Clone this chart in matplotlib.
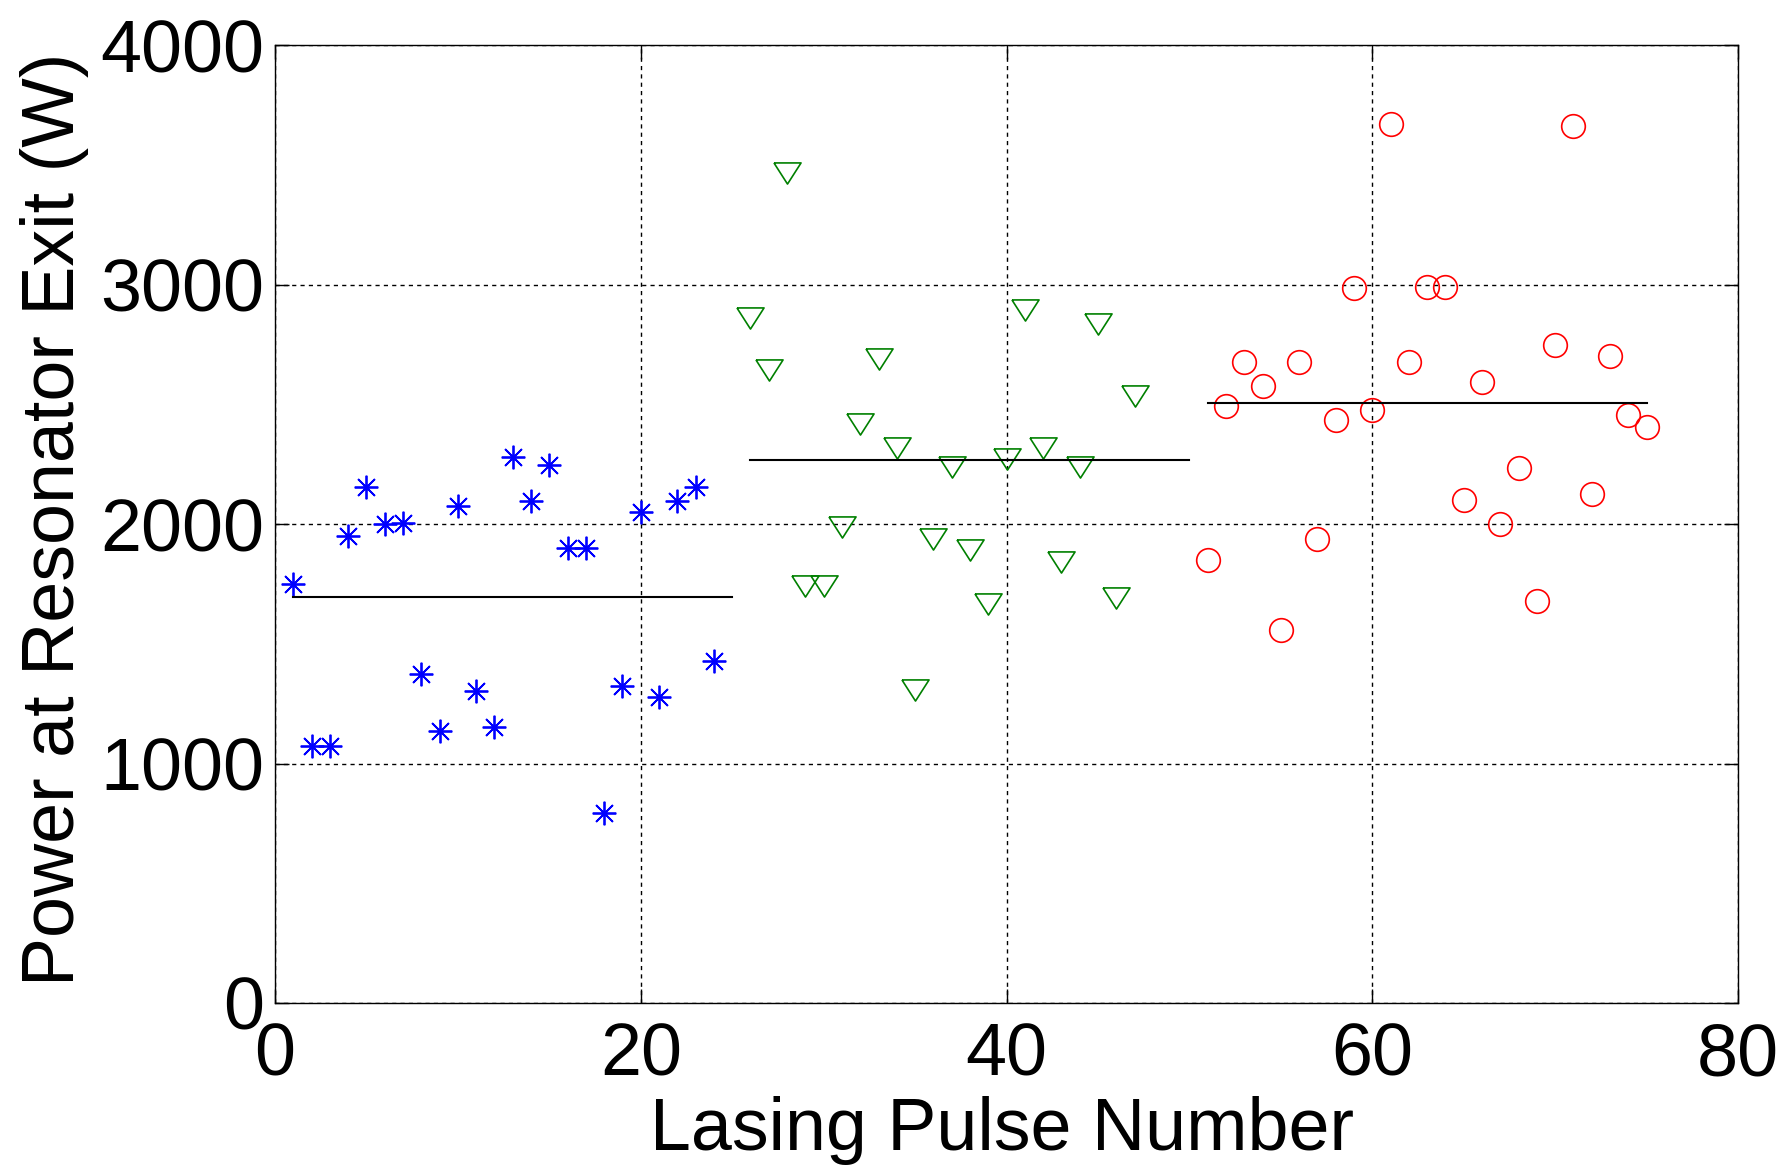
import matplotlib
matplotlib.use("Agg")
import matplotlib.pyplot as plt

plt.rcParams['font.family'] = ['Liberation Sans', 'DejaVu Sans']

# pulse number / power at resonator exit for the three runs
pulse_a = [1, 2, 3, 4, 5, 6, 7, 8, 9, 10, 11, 12, 13, 14, 15, 16, 17, 18,
           19, 20, 21, 22, 23, 24]
power_a = [1750, 1075, 1075, 1949, 2154, 2000, 2005, 1373, 1137, 2075, 1303,
           1154, 2279, 2098, 2247, 1902, 1902, 795, 1326, 2051, 1280, 2098,
           2154, 1427]

pulse_b = [26, 27, 28, 29, 30, 31, 32, 33, 34, 35, 36, 37, 38, 39, 40, 41,
           42, 43, 44, 45, 46, 47]
power_b = [2861, 2646, 3466, 1740, 1740, 1987, 2418, 2689, 2319, 1309, 1939,
           2239, 1892, 1668, 2271, 2893, 2319, 1840, 2239, 2837, 1692, 2537]

pulse_c = [51, 52, 53, 54, 55, 56, 57, 58, 59, 60, 61, 62, 63, 64, 65, 66,
           67, 68, 69, 70, 71, 72, 73, 74, 75]
power_c = [1852, 2494, 2679, 2579, 1557, 2679, 1937, 2437, 2985, 2477, 3671,
           2679, 2992, 2992, 2100, 2594, 2000, 2235, 1681, 2748, 3663, 2125,
           2702, 2455, 2406]

# average power of each run and the pulse span it covers
avg_start = [1, 26, 51]
avg_end = [25, 50, 75]
avg_power = [1695, 2266, 2508]

xticks = [0, 20, 40, 60, 80]
yticks = [0, 1000, 2000, 3000, 4000]

fig = plt.figure(figsize=(17.81, 11.66), dpi=100)
ax = fig.add_axes([0.1544, 0.1398, 0.8215, 0.8213])

tri = [(-1, 0.78), (1, 0.78), (0, -0.78), (-1, 0.78)]

ax.plot(pulse_a, power_a, linestyle='none', marker=(8, 2, 0), markersize=17,
        markeredgewidth=1.3, color=(0, 0, 1))
ax.plot(pulse_b, power_b, linestyle='none', marker=tri, markersize=19.5,
        markeredgewidth=1.2, markerfacecolor='none', color=(0, 0.5, 0))
ax.plot(pulse_c, power_c, linestyle='none', marker='o', markersize=17,
        markeredgewidth=1.2, markerfacecolor='none', color=(1, 0, 0))

for x0, x1, p in zip(avg_start, avg_end, avg_power):
    ax.plot([x0, x1], [p, p], color='k', linewidth=1.5)

ax.set_xlim(0, 80)
ax.set_ylim(0, 4000)
ax.set_xticks(xticks)
ax.set_yticks(yticks)
ax.grid(True, color='k', linestyle=(0, (3, 3)), linewidth=1.0)

for s in ax.spines.values():
    s.set_linewidth(1.0)
ax.tick_params(direction='in', length=10, width=1.0, labelsize=53,
               top=True, right=True)
ax.tick_params(axis='x', pad=13)
ax.tick_params(axis='y', pad=8)

ax.set_xlabel('Lasing Pulse Number', fontsize=53)
ax.xaxis.label.set_va('baseline')
ax.xaxis.set_label_coords(0.497, -0.1535)

ax.set_ylabel('Power at Resonator Exit (W)', fontsize=53)
ax.yaxis.label.set_va('baseline')
ax.yaxis.set_label_coords(-0.1374, 0.505)

fig.savefig('out.png', dpi=100)
